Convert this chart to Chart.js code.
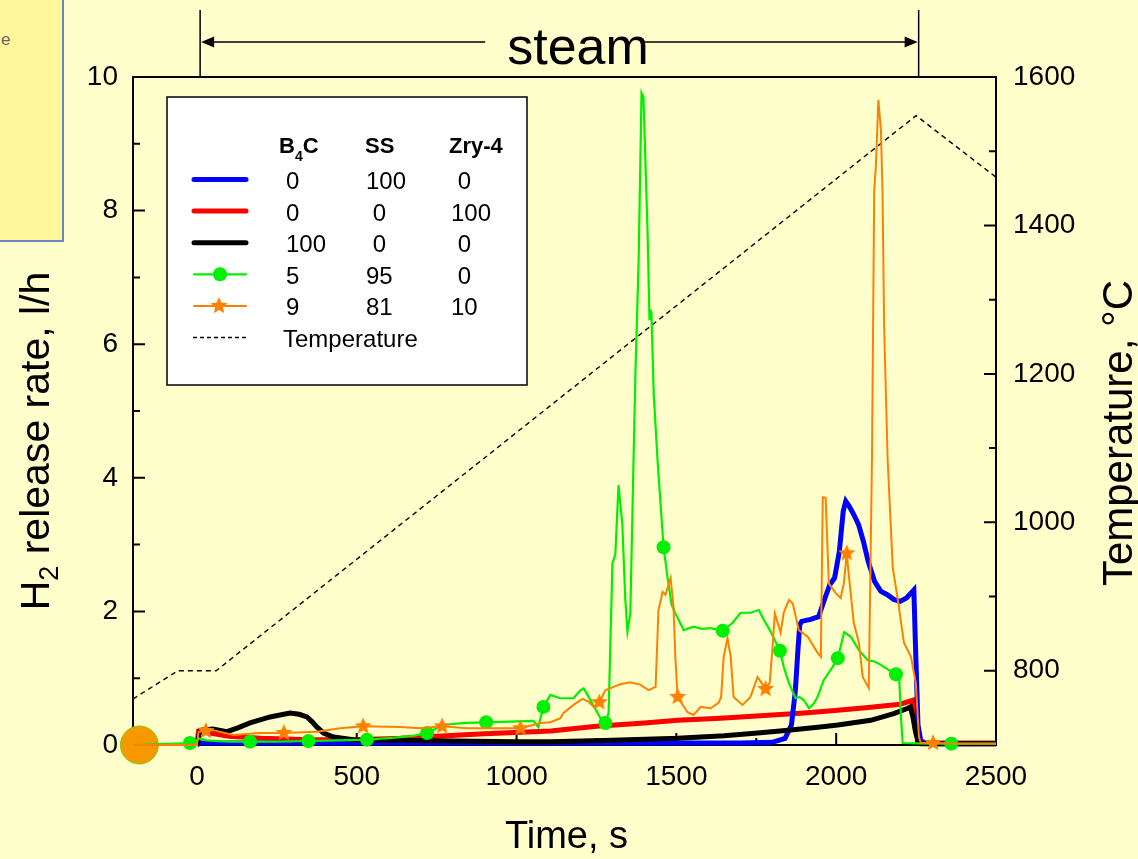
<!DOCTYPE html>
<html><head><meta charset="utf-8">
<script src="https://cdn.jsdelivr.net/npm/chart.js@4.4.0/dist/chart.umd.min.js"></script>
<style>
html,body{margin:0;padding:0;background:#FFFFCC;width:1138px;height:859px;overflow:hidden;}
#note{position:absolute;left:-4px;top:-4px;width:64px;height:242px;background:#FFF79A;border:2px solid #6A86C0;font:17px "Liberation Sans",Arial,sans-serif;color:#666;}
#note span{position:absolute;left:3px;top:32px;}
#wrap{position:absolute;left:0;top:0;width:1138px;height:859px;}
</style></head>
<body>
<div id="note"><span>e</span></div>
<div id="wrap"><canvas id="c" width="1138" height="859"></canvas></div>
<script>
// ---------------- data ----------------
const xTickValues = [0,250,500,750,1000,1250,1500,1750,2000,2250,2500];
const xTickLabels = [0,500,1000,1500,2000,2500];
const yTickValues = [0,1,2,3,4,5,6,7,8,9,10];
const yTickLabels = [0,2,4,6,8,10];
const tTickValues = [700,800,900,1000,1100,1200,1300,1400,1500,1600];
const tTickLabels = [800,1000,1200,1400,1600];

const legendB4C = [0,0,100,5,9];
const legendSS  = [100,0,0,95,81];
const legendZry = [0,100,0,0,10];

const tempT = [-200,-60,60,2250,2500];
const tempV = [762,800,800,1548,1465];

const blueT = [0,10,300,600,900,1200,1500,1700,1800,1840,1860,1872,1880,1886,1892,1920,1945,1965,1980,1995,2010,2022,2030,2040,2055,2070,2085,2100,2120,2140,2160,2180,2200,2220,2243,2248,2256,2265,2300,2500];
const blueV = [0,0.03,0.03,0.03,0.03,0.03,0.03,0.03,0.04,0.1,0.3,0.8,1.4,1.8,1.85,1.88,1.92,2.2,2.4,2.5,2.9,3.5,3.65,3.58,3.45,3.3,3.05,2.75,2.45,2.3,2.25,2.18,2.15,2.2,2.32,1.5,0.3,0.05,0.02,0.02];

const redT = [0,5,40,100,200,350,500,636,750,900,1050,1107,1250,1400,1504,1638,1800,1900,2005,2100,2200,2240,2250,2258,2300,2500];
const redV = [0,0.2,0.18,0.13,0.1,0.08,0.08,0.1,0.13,0.17,0.2,0.21,0.28,0.33,0.37,0.4,0.45,0.48,0.52,0.56,0.61,0.67,0.45,0.05,0.03,0.03];

const blackT = [0,10,50,94,130,166,200,229,260,291,320,344,360,375,396,427,490,600,800,1000,1107,1300,1504,1650,1754,1850,1950,2005,2108,2180,2224,2232,2240,2248,2255,2265,2500];
const blackV = [0,0.22,0.24,0.2,0.26,0.33,0.38,0.42,0.45,0.48,0.46,0.42,0.35,0.27,0.18,0.12,0.08,0.07,0.06,0.05,0.05,0.07,0.1,0.14,0.18,0.22,0.27,0.3,0.37,0.47,0.55,0.57,0.42,0.2,0.07,0.02,0.02];

const greenT = [-200,-22,-5,5,30,100,166,250,349,440,532,620,680,720,771,840,905,980,1053,1068,1084,1106,1137,1178,1200,1210,1222,1245,1263,1278,1288,1300,1309,1319,1325,1331,1340,1347,1356,1366,1372,1382,1391,1397,1403,1410,1416,1419,1422,1429,1441,1460,1472,1485,1497,1523,1554,1580,1607,1645,1676,1701,1732,1758,1774,1795,1811,1824,1836,1852,1873,1885,1899,1915,1930,1942,1961,1989,2005,2025,2046,2071,2099,2120,2140,2165,2187,2197,2203,2208,2280,2360,2500];
const greenV = [0,0.03,0.02,0.1,0.07,0.05,0.05,0.05,0.06,0.07,0.08,0.11,0.14,0.18,0.3,0.33,0.34,0.35,0.36,0.27,0.57,0.75,0.7,0.7,0.82,0.85,0.75,0.55,0.4,0.33,0.48,2.72,2.85,3.89,3.6,3.3,2.2,1.7,1.97,4.27,5.58,7.26,9.76,9.7,8.76,7.66,6.36,6.5,6.48,5.27,4.27,2.96,2.52,2.1,1.97,1.72,1.77,1.74,1.75,1.71,1.83,1.98,1.98,2.02,1.87,1.7,1.54,1.41,1.17,0.93,0.7,0.72,0.67,0.55,0.62,0.72,0.97,1.17,1.3,1.69,1.62,1.42,1.27,1.25,1.2,1.12,1.06,1.02,0.4,0.03,0.02,0.02,0.02];
const greenMarkerT = [-22,166,349,532,720,905,1084,1278,1460,1645,1824,2005,2187,2360];

const orangeT = [-200,0,5,28,51,114,197,272,375,448,520,636,699,767,845,927,1012,1075,1106,1137,1147,1178,1206,1225,1241,1259,1278,1303,1325,1356,1388,1413,1435,1444,1457,1466,1482,1491,1497,1504,1520,1535,1554,1576,1607,1632,1640,1648,1660,1670,1679,1707,1732,1754,1779,1792,1801,1808,1817,1826,1836,1852,1864,1883,1911,1942,1952,1958,1967,1977,1999,2014,2024,2033,2039,2055,2071,2083,2093,2102,2112,2119,2124,2132,2140,2145,2150,2161,2177,2193,2212,2234,2249,2259,2265,2303,2400,2500];
const orangeV = [0,0,0.2,0.21,0.22,0.15,0.18,0.18,0.2,0.25,0.28,0.27,0.25,0.28,0.25,0.25,0.25,0.33,0.34,0.4,0.48,0.6,0.69,0.65,0.57,0.64,0.82,0.87,0.91,0.94,0.9,0.82,0.87,2.02,2.29,2.25,2.5,2.07,1.3,0.72,0.6,0.49,0.45,0.57,0.55,0.63,0.72,1.32,1.6,1.32,0.72,0.6,0.72,1.02,0.84,0.93,1.47,1.97,1.83,1.68,1.98,2.17,2.12,1.72,1.62,1.38,1.32,3.71,3.7,2.42,2.27,2.2,2.42,2.87,2.57,1.83,1.53,1.02,0.93,0.85,4.3,8.31,8.65,9.66,9.2,8.26,6.26,4.27,2.66,2.17,1.53,1.32,0.93,0.12,0.03,0.03,0.02,0.02];
const orangeStarT = [28,272,520,767,1012,1259,1504,1779,2033,2303];

const bigDotT = [-180];
const bigDotV = [0];

// ---------------- helpers ----------------
const FONT = '"Liberation Sans", Arial, Helvetica, sans-serif';
const pts = (T, V) => T.map((t, i) => ({x: t, y: V[i]}));
function makeStar(r, color) {
  const s = Math.ceil(r * 2 + 2);
  const c = document.createElement('canvas');
  c.width = s; c.height = s;
  const g = c.getContext('2d');
  g.fillStyle = color;
  g.beginPath();
  for (let i = 0; i < 10; i++) {
    const a = -Math.PI / 2 + i * Math.PI / 5;
    const rr = i % 2 ? r * 0.45 : r;
    g.lineTo(s / 2 + rr * Math.cos(a), s / 2 + rr * Math.sin(a));
  }
  g.closePath(); g.fill();
  return c;
}
const starImg = makeStar(9, '#FF8000');
const GREEN = '#00F000', ORANGE = '#FF8000';

// ---------------- decoration plugin ----------------
function drawInwardTicks(ctx, chart) {
  const ca = chart.chartArea;
  const {x, y, y2} = chart.scales;
  ctx.save();
  ctx.strokeStyle = '#000'; ctx.lineWidth = 2;
  ctx.strokeRect(ca.left, ca.top, ca.right - ca.left, ca.bottom - ca.top);
  ctx.beginPath();
  x.ticks.forEach(t => {
    const p = x.getPixelForValue(t.value);
    const L = xTickLabels.includes(t.value) ? 12 : 7;
    ctx.moveTo(p, ca.bottom); ctx.lineTo(p, ca.bottom - L);
  });
  y.ticks.forEach(t => {
    const p = y.getPixelForValue(t.value);
    const L = yTickLabels.includes(t.value) ? 12 : 7;
    ctx.moveTo(ca.left, p); ctx.lineTo(ca.left + L, p);
  });
  y2.ticks.forEach(t => {
    const p = y2.getPixelForValue(t.value);
    const L = tTickLabels.includes(t.value) ? 12 : 7;
    ctx.moveTo(ca.right, p); ctx.lineTo(ca.right - L, p);
  });
  ctx.stroke();
  ctx.restore();
}

function drawTitles(ctx, chart) {
  ctx.save();
  ctx.fillStyle = '#000';
  ctx.textBaseline = 'alphabetic';
  // bottom title
  ctx.font = '38px ' + FONT;
  ctx.textAlign = 'center';
  ctx.fillText('Time, s', (chart.chartArea.left + chart.chartArea.right) / 2 + 2, 848);
  // left title with subscript
  const big = '41px ' + FONT, small = '27px ' + FONT;
  ctx.textAlign = 'left';
  ctx.font = big; const wH = ctx.measureText('H').width; const wRest = ctx.measureText(' release rate, l/h').width;
  ctx.font = small; const w2 = ctx.measureText('2').width;
  const total = wH + w2 + wRest;
  ctx.translate(49, 441);
  ctx.rotate(-Math.PI / 2);
  let px = -total / 2;
  ctx.font = big; ctx.fillText('H', px, 0); px += wH;
  ctx.font = small; ctx.fillText('2', px, 9); px += w2;
  ctx.font = big; ctx.fillText(' release rate, l/h', px, 0);
  ctx.setTransform(1, 0, 0, 1, 0, 0);
  // right title
  ctx.translate(1132, 433);
  ctx.rotate(-Math.PI / 2);
  ctx.textAlign = 'center';
  ctx.font = '42px ' + FONT;
  ctx.fillText('Temperature, \u00B0C', 0, 0);
  ctx.restore();
}

function drawSteam(ctx, chart) {
  const x = chart.scales.x;
  const x0 = x.getPixelForValue(10), x1 = x.getPixelForValue(2258);
  const top = chart.chartArea.top;
  const ay = 42;
  ctx.save();
  ctx.strokeStyle = '#000'; ctx.fillStyle = '#000'; ctx.lineWidth = 1.5;
  ctx.beginPath();
  ctx.moveTo(x0, 10); ctx.lineTo(x0, top);
  ctx.moveTo(x1, 10); ctx.lineTo(x1, top);
  ctx.stroke();
  ctx.font = '52px ' + FONT;
  ctx.textAlign = 'center'; ctx.textBaseline = 'alphabetic';
  const cx = 578;
  const tw = ctx.measureText('steam').width;
  const tl = cx - tw / 2, tr = cx + tw / 2;
  ctx.beginPath();
  ctx.moveTo(x0 + 10, ay); ctx.lineTo(tl - 22, ay);
  ctx.moveTo(tr - 8, ay); ctx.lineTo(x1 - 10, ay);
  ctx.stroke();
  ctx.beginPath();
  ctx.moveTo(x0 + 1, ay); ctx.lineTo(x0 + 14, ay - 5.5); ctx.lineTo(x0 + 14, ay + 5.5); ctx.closePath();
  ctx.moveTo(x1 - 1, ay); ctx.lineTo(x1 - 14, ay - 5.5); ctx.lineTo(x1 - 14, ay + 5.5); ctx.closePath();
  ctx.fill();
  ctx.fillText('steam', cx, 64);
  ctx.restore();
}

function drawLegend(ctx, chart) {
  const L = {x: 167, y: 97, w: 360, h: 288};
  ctx.save();
  ctx.fillStyle = '#fff';
  ctx.fillRect(L.x, L.y, L.w, L.h);
  ctx.strokeStyle = '#000'; ctx.lineWidth = 1.5;
  ctx.strokeRect(L.x, L.y, L.w, L.h);
  ctx.fillStyle = '#000';
  ctx.textAlign = 'left'; ctx.textBaseline = 'alphabetic';
  // header
  ctx.font = 'bold 22px ' + FONT;
  let hx = 279;
  ctx.fillText('B', hx, 153); hx += ctx.measureText('B').width;
  ctx.font = 'bold 14px ' + FONT;
  ctx.fillText('4', hx, 161); hx += ctx.measureText('4').width;
  ctx.font = 'bold 22px ' + FONT;
  ctx.fillText('C', hx, 153);
  ctx.fillText('SS', 365, 153);
  ctx.fillText('Zry-4', 449, 153);
  const ds = chart.data.datasets;
  const order = [2, 3, 4, 1, 0]; // blue, red, black, green, orange dataset indices
  const c1 = 286, c2 = 366, c3 = 451;
  ctx.font = '24px ' + FONT;
  for (let i = 0; i < 5; i++) {
    const base = 189 + i * 31.6;
    const ly = base - 9.5;
    const d = ds[order[i]];
    ctx.strokeStyle = d.borderColor;
    ctx.lineWidth = d.borderWidth;
    ctx.lineCap = 'round';
    ctx.beginPath(); ctx.moveTo(194, ly); ctx.lineTo(246, ly); ctx.stroke();
    if (i === 3) {
      ctx.fillStyle = GREEN; ctx.beginPath(); ctx.arc(220, ly, 7, 0, Math.PI * 2); ctx.fill();
    }
    if (i === 4) {
      ctx.drawImage(starImg, 219 - starImg.width / 2, ly - starImg.height / 2);
    }
    ctx.fillStyle = '#000';
    const fmt = v => (v === 0 ? ' 0' : String(v));
    ctx.fillText(String(legendB4C[i]), c1, base);
    ctx.fillText(fmt(legendSS[i]), c2, base);
    ctx.fillText(fmt(legendZry[i]), c3, base);
  }
  const tb = 189 + 5 * 31.6;
  ctx.strokeStyle = '#000'; ctx.lineWidth = 1.3; ctx.lineCap = 'butt';
  ctx.setLineDash([4, 3]);
  ctx.beginPath(); ctx.moveTo(193, tb - 9.5); ctx.lineTo(247, tb - 9.5); ctx.stroke();
  ctx.setLineDash([]);
  ctx.fillText('Temperature', 283, tb);
  ctx.restore();
}

const decor = {
  id: 'decor',
  beforeDatasetsDraw(chart) { drawInwardTicks(chart.ctx, chart); },
  afterDraw(chart) {
    const ctx = chart.ctx;
    drawTitles(ctx, chart);
    drawSteam(ctx, chart);
    drawLegend(ctx, chart);
  }
};

// ---------------- chart ----------------
const tickFont = {family: FONT, size: 28};
new Chart(document.getElementById('c'), {
  type: 'line',
  data: {
    datasets: [
      {label: 'B4C 9 / SS 81 / Zry-4 10', data: pts(orangeT, orangeV), borderColor: ORANGE, backgroundColor: ORANGE, borderWidth: 2,
       pointStyle: starImg, pointRadius: c => (c.raw && orangeStarT.includes(c.raw.x)) ? 9 : 0, order: 0, clip: false},
      {label: 'B4C 5 / SS 95 / Zry-4 0', data: pts(greenT, greenV), borderColor: GREEN, backgroundColor: GREEN, borderWidth: 2.2,
       pointStyle: 'circle', pointBorderWidth: 0, pointRadius: c => (c.raw && greenMarkerT.includes(c.raw.x)) ? 7 : 0, order: 1, clip: false},
      {label: 'B4C 0 / SS 100 / Zry-4 0', data: pts(blueT, blueV), borderColor: '#0000FF', borderWidth: 5, pointRadius: 0, order: 4, clip: false},
      {label: 'B4C 0 / SS 0 / Zry-4 100', data: pts(redT, redV), borderColor: '#FF0000', borderWidth: 5, pointRadius: 0, order: 5, clip: false},
      {label: 'B4C 100 / SS 0 / Zry-4 0', data: pts(blackT, blackV), borderColor: '#000000', borderWidth: 5, pointRadius: 0, order: 3, clip: false},
      {label: 'Temperature', data: pts(tempT, tempV), yAxisID: 'y2', borderColor: '#000', borderWidth: 1.4, borderDash: [5, 4], pointRadius: 0, order: 2, clip: false},
      {label: 'marker', data: pts(bigDotT, bigDotV), showLine: false, pointRadius: 19, pointBorderWidth: 1, pointBorderColor: '#7BD000', pointBackgroundColor: '#F79800', order: 6, clip: false}
    ]
  },
  options: {
    responsive: false, animation: false,
    layout: {padding: {top: 77, left: 0, right: 0, bottom: 0}},
    plugins: {legend: {display: false}, tooltip: {enabled: false}},
    elements: {line: {tension: 0}},
    scales: {
      x: {type: 'linear', min: -200, max: 2500,
        afterBuildTicks: s => { s.ticks = xTickValues.map(v => ({value: v})); },
        afterFit: s => { s.height = 114; },
        ticks: {font: tickFont, color: '#000', padding: 15, maxRotation: 0, autoSkip: false,
          callback: v => xTickLabels.includes(v) ? String(v) : ''},
        grid: {display: false, drawTicks: false}, border: {display: false}},
      y: {position: 'left', min: 0, max: 10,
        afterBuildTicks: s => { s.ticks = yTickValues.map(v => ({value: v})); },
        afterFit: s => { s.width = 133; },
        ticks: {font: tickFont, color: '#000', padding: 15, autoSkip: false,
          callback: v => yTickLabels.includes(v) ? String(v) : ''},
        grid: {display: false, drawTicks: false}, border: {display: false}},
      y2: {position: 'right', min: 700, max: 1600,
        afterBuildTicks: s => { s.ticks = tTickValues.map(v => ({value: v})); },
        afterFit: s => { s.width = 142; },
        ticks: {font: tickFont, color: '#000', padding: 17, autoSkip: false,
          callback: v => tTickLabels.includes(v) ? String(v) : ''},
        grid: {display: false, drawTicks: false}, border: {display: false}}
    }
  },
  plugins: [decor]
});
</script>
</body></html>
